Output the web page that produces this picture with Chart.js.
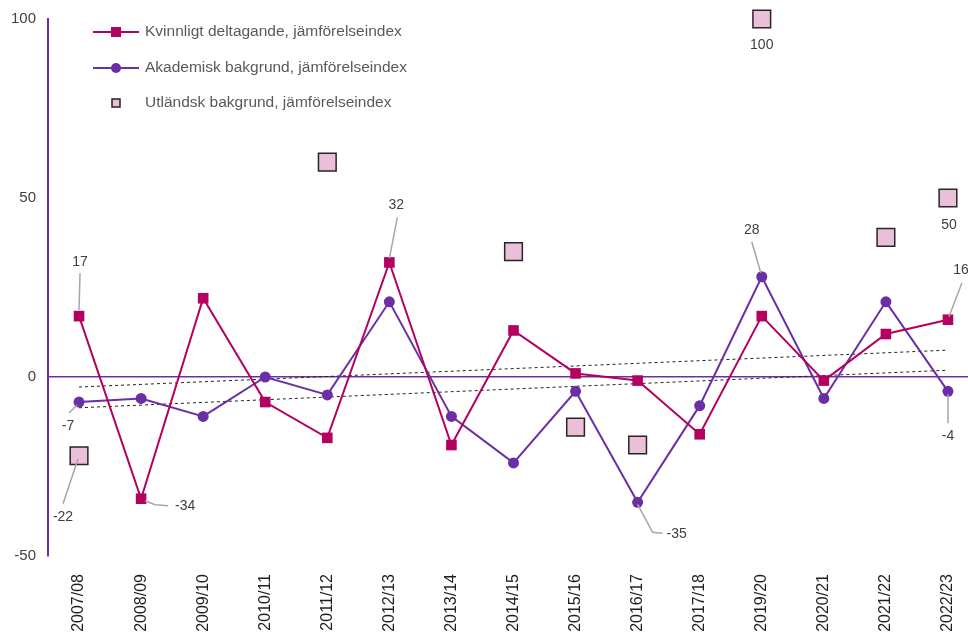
<!DOCTYPE html>
<html lang="sv">
<head>
<meta charset="utf-8">
<script src="https://cdn.jsdelivr.net/npm/chart.js@4.4.1/dist/chart.umd.min.js"></script>
<style>
  html, body { margin: 0; padding: 0; background: #fff; overflow: hidden; }
  #wrap { width: 993px; height: 635px; }
</style>
</head>
<body>
<div id="wrap"><canvas id="chart" width="993" height="635"></canvas></div>
<script>
const years = ['2007/08', '2008/09', '2009/10', '2010/11', '2011/12', '2012/13', '2013/14', '2014/15',
  '2015/16', '2016/17', '2017/18', '2019/20', '2020/21', '2021/22', '2022/23'];
const kvinnligt = [17, -34, 22, -7, -17, 32, -19, 13, 1, -1, -16, 17, -1, 12, 16];
const akademisk = [-7, -6, -11, 0, -5, 21, -11, -24, -4, -35, -8, 28, -6, 21, -4];
const utlandsk = [-22, null, null, null, 60, null, null, 35, -14, -19, null, 100, null, 39, 50];
// linear trend, first and last season
const trendKvinnligt = [-2.8, 7.5];
const trendAkademisk = [-8.6, 1.9];
const yTicks = [-50, 0, 50, 100];

const RED = '#B4005E';
const PURPLE = '#6B2FA5';
const PINK = '#EBBED9';
const TEXT = '#404040';
const FONT = 'Liberation Sans';

function trend(arr) {
  return [{ x: years[0], y: arr[0] }, { x: years[years.length - 1], y: arr[1] }];
}

// value labels with leader lines, offsets in px from the point
const valueLabels = [
  { ds: 0, i: 0, dx: 1, dy: -54, leader: [[1, -43], [0, -6]] },
  { ds: 0, i: 1, dx: 44, dy: 7, leader: [[4, 2], [14, 6], [27, 7]] },
  { ds: 1, i: 0, dx: -11, dy: 24, leader: [[-2, 3], [-10, 11]] },
  { ds: 2, i: 0, dx: -16, dy: 61, leader: [[-1, 3], [-16, 48]] },
  { ds: 0, i: 5, dx: 7, dy: -57, leader: [[8, -45], [0, -4]] },
  { ds: 1, i: 9, dx: 39, dy: 32, leader: [[0, 2], [15, 30], [25, 31]] },
  { ds: 2, i: 11, dx: 0, dy: 26 },
  { ds: 1, i: 11, dx: -10, dy: -47, leader: [[-10, -35], [-1, -4]] },
  { ds: 2, i: 14, dx: 1, dy: 27 },
  { ds: 0, i: 14, dx: 13, dy: -50, leader: [[14, -37], [1, -3]] },
  { ds: 1, i: 14, dx: 0, dy: 45, leader: [[0, 3], [0, 32]] }
];

const labelPlugin = {
  id: 'valueLabels',
  afterDatasetsDraw(chart) {
    const ctx = chart.ctx;
    ctx.save();
    valueLabels.forEach(l => {
      const pt = chart.getDatasetMeta(l.ds).data[l.i];
      const v = chart.data.datasets[l.ds].data[l.i];
      if (l.leader) {
        ctx.strokeStyle = '#A6A6A6';
        ctx.lineWidth = 1.5;
        ctx.beginPath();
        l.leader.forEach((p, k) => {
          if (k === 0) ctx.moveTo(pt.x + p[0], pt.y + p[1]);
          else ctx.lineTo(pt.x + p[0], pt.y + p[1]);
        });
        ctx.stroke();
      }
      ctx.fillStyle = TEXT;
      ctx.font = '14px "' + FONT + '"';
      ctx.textAlign = 'center';
      ctx.textBaseline = 'middle';
      ctx.fillText(String(v), pt.x + l.dx, pt.y + l.dy);
    });
    ctx.restore();
  }
};

const legendPlugin = {
  id: 'cornerLegend',
  afterDraw(chart) {
    const ctx = chart.ctx;
    const ds = chart.data.datasets;
    const rows = [32, 68, 103];
    ctx.save();
    ctx.font = '15.5px "' + FONT + '"';
    ctx.textBaseline = 'middle';
    ctx.textAlign = 'left';
    rows.forEach((y, k) => {
      const d = ds[k];
      if (k < 2) {
        ctx.strokeStyle = d.borderColor;
        ctx.lineWidth = 2;
        ctx.beginPath();
        ctx.moveTo(93, y);
        ctx.lineTo(139, y);
        ctx.stroke();
      }
      ctx.fillStyle = d.pointBackgroundColor;
      if (k === 1) {
        ctx.beginPath();
        ctx.arc(116, y, 5, 0, Math.PI * 2);
        ctx.fill();
      } else if (k === 0) {
        ctx.fillRect(111, y - 5, 10, 10);
      } else {
        ctx.fillRect(112, y - 4, 8, 8);
        ctx.strokeStyle = '#222';
        ctx.lineWidth = 1.5;
        ctx.strokeRect(112, y - 4, 8, 8);
      }
      ctx.fillStyle = '#595959';
      ctx.fillText(d.label, 145, y);
    });
    ctx.restore();
  }
};

new Chart(document.getElementById('chart'), {
  type: 'line',
  data: {
    labels: years,
    datasets: [
      {
        label: 'Kvinnligt deltagande, jämförelseindex',
        data: kvinnligt,
        borderColor: RED, borderWidth: 2,
        pointStyle: 'rect', pointRadius: 7.5,
        pointBackgroundColor: RED, pointBorderColor: RED, pointBorderWidth: 0,
        tension: 0, clip: false
      },
      {
        label: 'Akademisk bakgrund, jämförelseindex',
        data: akademisk,
        borderColor: PURPLE, borderWidth: 2,
        pointStyle: 'circle', pointRadius: 5.5,
        pointBackgroundColor: PURPLE, pointBorderColor: PURPLE, pointBorderWidth: 0,
        tension: 0, clip: false
      },
      {
        label: 'Utländsk bakgrund, jämförelseindex',
        data: utlandsk,
        showLine: false,
        pointStyle: 'rect', pointRadius: 12.5,
        pointBackgroundColor: PINK, pointBorderColor: '#262626', pointBorderWidth: 1.5,
        clip: false
      },
      {
        label: 'trend kvinnligt',
        data: trend(trendKvinnligt),
        borderColor: '#222', borderWidth: 1, borderDash: [3, 3],
        pointRadius: 0
      },
      {
        label: 'trend akademisk',
        data: trend(trendAkademisk),
        borderColor: '#222', borderWidth: 1, borderDash: [3, 3],
        pointRadius: 0
      }
    ]
  },
  options: {
    responsive: false,
    animation: false,
    devicePixelRatio: 1,
    layout: { padding: { top: 19, right: 0, bottom: 0, left: 0 } },
    plugins: { legend: { display: false }, tooltip: { enabled: false } },
    scales: {
      x: {
        offset: true,
        grid: { display: false, drawTicks: false },
        border: { display: false },
        ticks: {
          autoSkip: false, minRotation: 90, maxRotation: 90, padding: 18,
          color: '#1e1e1e', font: { family: FONT, size: 16 }
        },
        afterFit: s => { s.height = 79; s.paddingLeft = 0; s.paddingRight = 0; }
      },
      y: {
        min: -50, max: 100,
        afterBuildTicks: s => { s.ticks = yTicks.map(v => ({ value: v })); },
        grid: {
          drawTicks: false,
          color: c => (c.tick && c.tick.value === 0 ? PURPLE : 'rgba(0,0,0,0)'),
          lineWidth: 1.5
        },
        border: { display: true, color: PURPLE, width: 2 },
        ticks: { padding: 12, color: TEXT, font: { family: FONT, size: 15 } },
        afterFit: s => { s.width = 48; s.paddingTop = 0; s.paddingBottom = 0; }
      }
    }
  },
  plugins: [labelPlugin, legendPlugin]
});
</script>
</body>
</html>
